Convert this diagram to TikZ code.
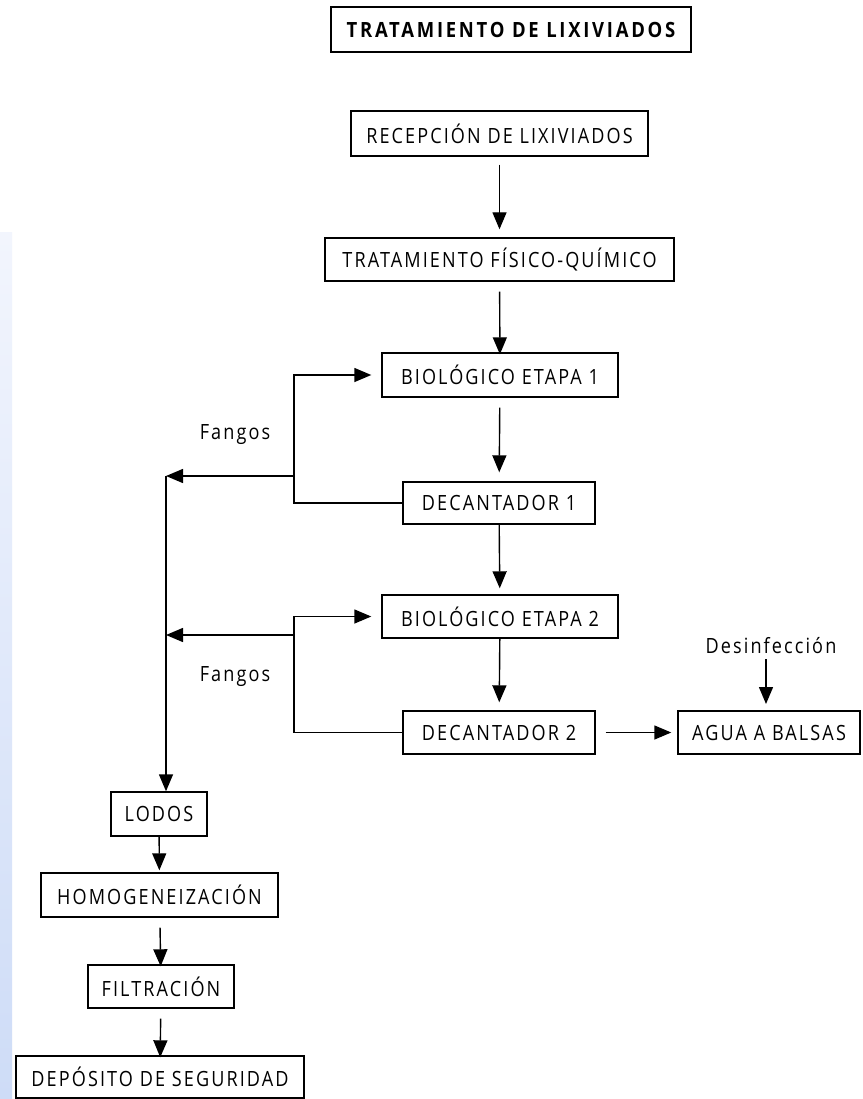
\documentclass[tikz,border=0pt]{standalone}
\usepackage{fontspec}
\setmainfont{Open Sans}
\newfontfamily\bodyfont{Open Sans}[LetterSpace=10,FakeStretch=0.86]
\newfontfamily\titlefont{Open Sans}[LetterSpace=13,FakeStretch=0.88]
\usetikzlibrary{arrows.meta,calc}
\tikzset{
  box/.style={draw, line width=1.4pt, inner sep=0pt, align=center,
              font=\bodyfont\fontsize{21}{23}\selectfont},
  lbl/.style={inner sep=0pt, font=\bodyfont\fontsize{21}{23}\selectfont},
  wire/.style={line width=1.4pt},
  arr/.style={wire, -{Triangle[length=17pt,width=14pt]}},
}
\begin{document}
\begin{tikzpicture}[x=1pt,y=-1pt]
  % page and the pale blue strip on the left edge
  \useasboundingbox (0,0) rectangle (862,1099);
  \fill[white] (0,0) rectangle (862,1099);
  \fill[top color={rgb,255:red,242;green,245;blue,253},
        bottom color={rgb,255:red,206;green,220;blue,247}]
        (0,233) rectangle (12,1099);

  % title
  \node[box, minimum width=360pt, minimum height=45pt,
        font=\titlefont\bfseries\fontsize{21}{23}\selectfont] (title) at (511,29.5)
        {TRATAMIENTO DE LIXIVIADOS};

  % main process column
  \node[box, minimum width=297pt, minimum height=45pt] (rec)  at (499.5,133.5) {RECEPCIÓN DE LIXIVIADOS};
  \node[box, minimum width=349pt, minimum height=43pt] (fis)  at (499.5,259.5) {TRATAMIENTO FÍSICO-QUÍMICO};
  \node[box, minimum width=236pt, minimum height=44pt] (bio1) at (500,375)     {BIOLÓGICO ETAPA 1};
  \node[box, minimum width=192pt, minimum height=42pt] (dec1) at (499,503)     {DECANTADOR 1};
  \node[box, minimum width=236pt, minimum height=43pt] (bio2) at (500,616.5)   {BIOLÓGICO ETAPA 2};
  \node[box, minimum width=192pt, minimum height=43pt] (dec2) at (499,732.5)   {DECANTADOR 2};
  \node[box, minimum width=182pt, minimum height=43pt] (agua) at (769,732.5)   {AGUA A BALSAS};
  \node[lbl] (desinf) at (771,646) {Desinfección};

  % sludge line
  \node[box, minimum width=96pt,  minimum height=44pt] (lodos) at (159,814)  {LODOS};
  \node[box, minimum width=237pt, minimum height=44pt] (homo)  at (159.5,895) {HOMOGENEIZACIÓN};
  \node[box, minimum width=146pt, minimum height=43pt] (filt)  at (161,986.5) {FILTRACIÓN};
  \node[box, minimum width=288pt, minimum height=42pt] (dep)   at (160,1077)  {DEPÓSITO DE SEGURIDAD};

  \node[lbl] (fan1) at (235,435) {Fangos};
  \node[lbl] (fan2) at (235,677) {Fangos};

  % junction points of the sludge recirculation
  \coordinate (j1) at (294,476);
  \coordinate (m1) at (166,476);
  \coordinate (j2) at (294,635);
  \coordinate (m2) at (166,635);

  % main flow
  \draw[arr, shorten <=8pt, shorten >=8pt] (rec) -- (fis);
  \draw[arr, shorten <=10pt, shorten >=-2pt] (fis) -- (bio1);
  \draw[arr, shorten <=10pt, shorten >=9pt] (bio1) -- (dec1);
  \draw[arr, shorten >=6pt] (dec1) -- (bio2);
  \draw[arr, shorten >=8pt] (bio2) -- (dec2);
  \draw[arr, shorten <=10pt, shorten >=6pt] (dec2) -- (agua);
  \draw[arr, shorten <=5pt, shorten >=7pt] (desinf.south -| 766,0) -- (766,711);

  % recirculation loops
  \draw[arr, shorten >=10pt] (dec1.west) -| (j1) |- (bio1.west);
  \draw[arr] (j1) -- (m1);
  \draw[arr, shorten >=10pt] (dec2.west) -| (j2) |- (bio2.west);
  \draw[arr] (j2) -- (m2);
  \draw[arr] (m1) -- (m1 |- lodos.north);

  % sludge treatment
  \draw[arr, shorten >=2pt] (lodos) -- (homo);
  \draw[arr, shorten <=10pt, shorten >=-2pt] (homo) -- (filt);
  \draw[arr, shorten <=10pt, shorten >=-2pt] (filt) -- (dep);
\end{tikzpicture}
\end{document}
